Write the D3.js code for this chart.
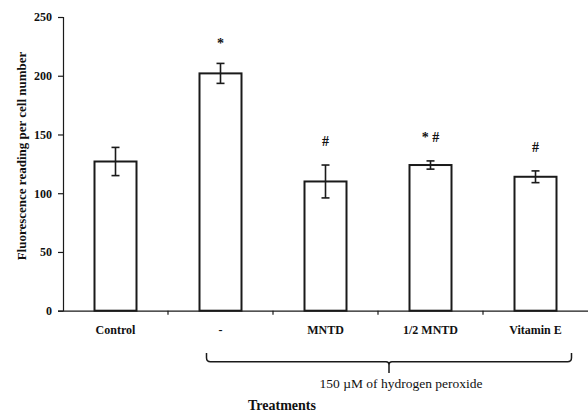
<!DOCTYPE html>
<html><head><meta charset="utf-8">
<script src="https://cdn.jsdelivr.net/npm/d3@7"></script>
<style>body{margin:0;background:#fff}svg{display:block}text{font-family:"Liberation Serif","Times New Roman",serif;fill:#111}</style>
</head><body>
<script>
const categories = ["Control", "-", "MNTD", "1/2 MNTD", "Vitamin E"];
const values = [127, 202, 110, 124, 114];
const errors = [12, 8.5, 14, 3.5, 5];
const annotations = ["", "*", "#", "* #", "#"];
const yTicks = [0, 50, 100, 150, 200, 250];
const groupLabel = "150 \u00b5M of hydrogen peroxide";
const groupMembers = ["-", "MNTD", "1/2 MNTD", "Vitamin E"];

(function () {
const W = 588, H = 412;
const svg = d3.select("body").append("svg").attr("width", W).attr("height", H);

const x = d3.scaleBand().domain(categories).range([63, 588]).paddingInner(0.6).paddingOuter(0.3);
const y = d3.scaleLinear().domain([0, 250]).range([310.7, 17]);
const ink = "#1a1a1a";

// y axis
const ya = svg.append("g").attr("transform", "translate(63,0)")
  .call(d3.axisLeft(y).tickValues(yTicks).tickSize(5).tickPadding(6));
ya.select(".domain").attr("stroke", ink).attr("stroke-width", 1.2);
ya.selectAll(".tick line").attr("stroke", ink).attr("stroke-width", 1.2);
ya.selectAll(".tick text").style("font-family", '"Liberation Serif",serif').style("font-size", "12px").style("font-weight", "bold").attr("fill", "#111");

// x axis
const xa = svg.append("g").attr("transform", `translate(0,${y(0)})`)
  .call(d3.axisBottom(x).tickSize(0).tickPadding(15).tickSizeOuter(0));
xa.select(".domain").attr("stroke", ink).attr("stroke-width", 1.2);
xa.selectAll(".tick text").style("font-family", '"Liberation Serif",serif').style("font-size", "12px").style("font-weight", "bold").attr("fill", "#111");
// boundary ticks between categories
const gap = (x.step() - x.bandwidth()) / 2;
svg.append("g").selectAll("line").data(categories.slice(1)).join("line")
  .attr("x1", c => x(c) - gap).attr("x2", c => x(c) - gap)
  .attr("y1", y(0)).attr("y2", y(0) + 4)
  .attr("stroke", ink).attr("stroke-width", 1.2);

// bars
svg.append("g").selectAll("rect").data(categories).join("rect")
  .attr("x", c => x(c)).attr("width", x.bandwidth())
  .attr("y", (c, i) => y(values[i])).attr("height", (c, i) => y(0) - y(values[i]))
  .attr("fill", "#fff").attr("stroke", ink).attr("stroke-width", 2);

// error bars
const eg = svg.append("g").attr("stroke", ink).attr("stroke-width", 1.6);
categories.forEach((c, i) => {
  const cx = x(c) + x.bandwidth() / 2;
  const t = y(values[i] + errors[i]), b = y(values[i] - errors[i]);
  eg.append("line").attr("x1", cx).attr("x2", cx).attr("y1", t).attr("y2", b);
  eg.append("line").attr("x1", cx - 4).attr("x2", cx + 4).attr("y1", t).attr("y2", t);
  eg.append("line").attr("x1", cx - 4).attr("x2", cx + 4).attr("y1", b).attr("y2", b);
});

// annotations
svg.append("g").selectAll("text").data(categories).join("text")
  .attr("x", c => x(c) + x.bandwidth() / 2)
  .attr("y", (c, i) => y(values[i] + errors[i]) - (annotations[i] === "*" ? 15 : 19))
  .attr("text-anchor", "middle")
  .style("font-size", "14px").style("font-weight", "bold")
  .text((c, i) => annotations[i]);

// brace
const bl = x(groupMembers[0]) + 7;
const br = x(groupMembers[groupMembers.length - 1]) + x.bandwidth() + 15;
const bm = (bl + br) / 2;
const bt = 353, hy = 361.7, tip = 373, r = 4;
svg.append("path")
  .attr("d", `M${bl},${bt} L${bl},${hy - r} Q${bl},${hy} ${bl + r},${hy} L${bm - 3},${hy} Q${bm},${hy} ${bm},${hy + 3} L${bm},${tip} M${bm},${hy + 3} Q${bm},${hy} ${bm + 3},${hy} L${br - r},${hy} Q${br},${hy} ${br},${hy - r} L${br},${bt}`)
  .attr("fill", "none").attr("stroke", ink).attr("stroke-width", 1.5);

svg.append("text").attr("x", 401).attr("y", 388).attr("text-anchor", "middle")
  .style("font-size", "13.5px").text(groupLabel);

svg.append("text").attr("x", 282).attr("y", 410).attr("text-anchor", "middle")
  .style("font-size", "14px").style("font-weight", "bold").text("Treatments");

svg.append("text").attr("transform", "translate(26,156) rotate(-90)")
  .attr("text-anchor", "middle")
  .style("font-size", "13px").style("font-weight", "bold")
  .text("Fluorescence reading per cell number");
})();
</script>
</body></html>
